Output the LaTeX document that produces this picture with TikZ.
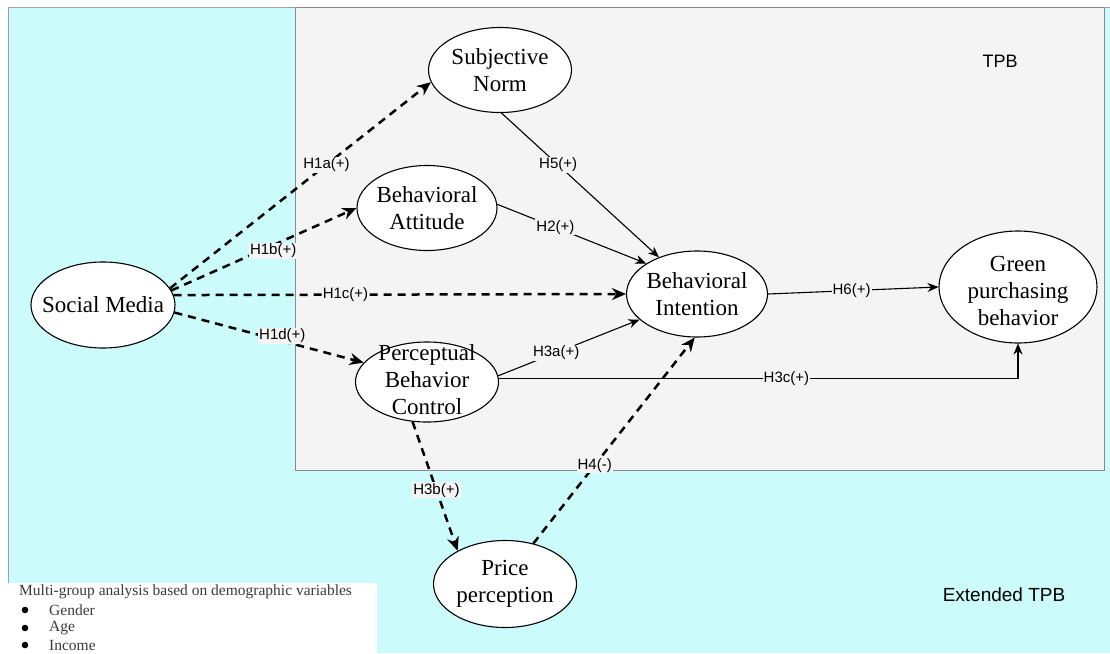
\documentclass[tikz,border=0pt]{standalone}
\usepackage{fontspec}
\setmainfont{Liberation Serif}
\newfontfamily\lblfont{Liberation Sans}
\usetikzlibrary{shapes.geometric,arrows.meta}
\definecolor{bgcyan}{HTML}{CCFBFB}
\definecolor{tpbgray}{HTML}{F4F4F4}
\definecolor{edgegray}{HTML}{8A8A8A}
\definecolor{legcol}{HTML}{3A3A3A}
\begin{document}
\begin{tikzpicture}[x=1pt,y=-1pt,
  ell/.style={ellipse,draw=black,line width=1.1pt,fill=white,inner sep=0pt},
  txt/.style={align=center,font=\fontsize{23}{27}\selectfont,inner sep=0pt},
  lbl/.style={font=\lblfont\fontsize{15}{17}\selectfont,fill=tpbgray,inner sep=1pt},
  dasharr/.style={line width=2.5pt,dash pattern=on 8pt off 6pt,-{Stealth[length=14pt,width=12pt]}},
  solarr/.style={line width=1.1pt,-{Stealth[length=11pt,width=9pt]}},
  legtxt/.style={anchor=west,text=legcol,font=\fontsize{15.5}{17}\selectfont,inner sep=0pt},
  boxtitle/.style={font=\lblfont\fontsize{18}{20}\selectfont}
]
\useasboundingbox (0,0) rectangle (1110,653);
% backgrounds
\fill[white] (0,0) rectangle (1110,653);
\fill[bgcyan] (8,7) rectangle (1110,653);
\draw[edgegray!80,line width=0.8pt] (8,653) -- (8,7) -- (1110,7);
\filldraw[fill=tpbgray,draw=edgegray,line width=1pt] (295,7) rectangle (1104,470);
\fill[white] (8,583) rectangle (377,653);

% box titles
\node[boxtitle] (tpb) at (1000,61) {TPB};
\node[boxtitle,font=\lblfont\fontsize{19}{22}\selectfont] (etpb) at (1004,595) {Extended TPB};

% nodes
\node[ell,minimum width=143pt,minimum height=85pt,label={[txt]center:Subjective\\Norm}] (sn) at (500,70) {};
\node[ell,minimum width=140pt,minimum height=85pt,label={[txt]center:Behavioral\\Attitude}] (ba) at (427,208) {};
\node[ell,minimum width=144pt,minimum height=86pt,label={[txt]center:Social Media}] (sm) at (103,305) {};
\node[ell,minimum width=141pt,minimum height=86pt,label={[txt]center:Behavioral\\Intention}] (bi) at (697,294) {};
\node[ell,minimum width=158pt,minimum height=112pt,label={[txt,yshift=-4pt]center:Green\\purchasing\\behavior}] (gpb) at (1018,287) {};
\node[ell,minimum width=143pt,minimum height=80pt,label={[txt,yshift=2pt]center:Perceptual\\Behavior\\Control}] (pbc) at (427,382) {};
\node[ell,minimum width=143pt,minimum height=87pt,label={[txt]center:Price\\perception}] (pp) at (505,584) {};

% dashed connectors
\draw[dasharr] (sm.14) -- node[lbl,pos=0.6]{H1a(+)} (sn.190);
\draw[dasharr] (sm.12) -- node[lbl,pos=0.55,yshift=-6pt]{H1b(+)} (ba.west);
\draw[dasharr] (sm.8) -- node[lbl,pos=0.38]{H1c(+)} (bi.west);
\draw[dasharr] (sm.-6) -- node[lbl,pos=0.57,yshift=5pt]{H1d(+)} (pbc.163);
\draw[dasharr] (pbc.250) -- node[lbl,pos=0.53]{H3b(+)} (pp.145);
\draw[dasharr] (pp.55) -- node[lbl,pos=0.38]{H4(-)} (bi.-93);

% solid connectors
\draw[solarr] (sn.-88) -- node[lbl,pos=0.36]{H5(+)} (bi.136);
\draw[solarr] (ba.3) -- node[lbl,pos=0.39]{H2(+)} (bi.149);
\draw[solarr] (bi.east) -- node[lbl,pos=0.49]{H6(+)} (gpb.west);
\draw[solarr] (pbc.5) -- node[lbl,pos=0.41]{H3a(+)} (bi.204);
\draw[solarr] (pbc.3) -| node[lbl,pos=0.277]{H3c(+)} (gpb.south);

% legend
\node[legtxt] (legt) at (19,592) {Multi-group analysis based on demographic variables};
\node[legtxt] (leg1) at (49,610) {Gender};
\node[legtxt] (leg2) at (49,628) {Age};
\node[legtxt] (leg3) at (49,645) {Income};
\fill[black] (25,610) circle (3.3pt);
\fill[black] (25,628) circle (3.3pt);
\fill[black] (25,645) circle (3.3pt);
\end{tikzpicture}
\end{document}
